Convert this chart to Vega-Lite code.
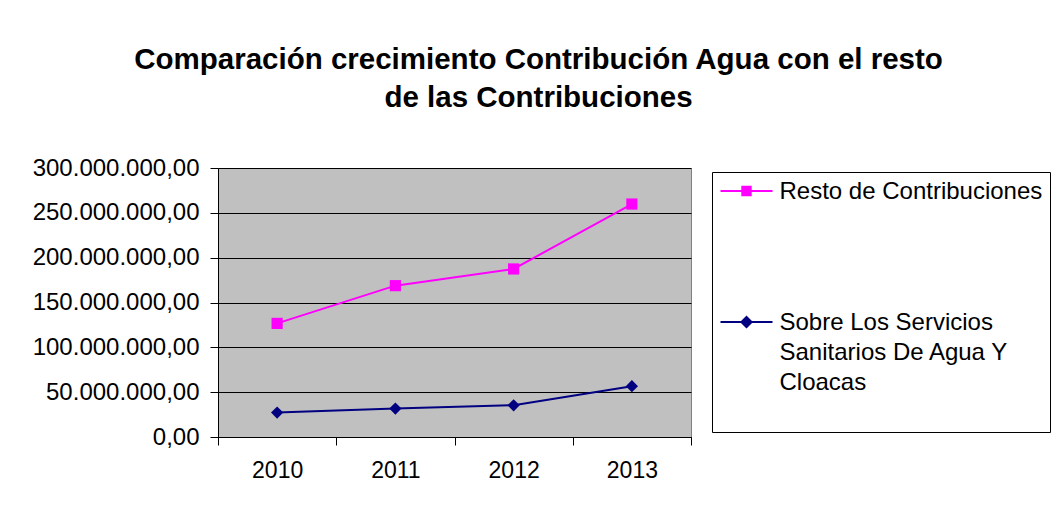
{
  "$schema": "https://vega.github.io/schema/vega-lite/v6.json",
  "width": 473,
  "height": 269,
  "autosize": "none",
  "padding": {"left": 218, "top": 168, "right": 369, "bottom": 71},
  "background": "white",
  "config": {
    "font": "Liberation Sans",
    "view": {"fill": "#C0C0C0", "stroke": "#808080", "strokeWidth": 1},
    "locale": {"number": {"decimal": ",", "thousands": ".", "grouping": [3], "currency": ["", " €"]}}
  },
  "title": {
    "text": ["Comparación crecimiento Contribución Agua con el resto", "de las Contribuciones"],
    "font": "Liberation Sans",
    "fontSize": 29.5,
    "fontWeight": "bold",
    "color": "black",
    "lineHeight": 37.5,
    "anchor": "middle",
    "dx": 84,
    "offset": 43
  },
  "data": {
    "values": [
      {"year": "2010", "series": "Resto de Contribuciones", "value": 126700000},
      {"year": "2011", "series": "Resto de Contribuciones", "value": 168800000},
      {"year": "2012", "series": "Resto de Contribuciones", "value": 187400000},
      {"year": "2013", "series": "Resto de Contribuciones", "value": 259800000},
      {"year": "2010", "series": "Sobre Los Servicios Sanitarios De Agua Y Cloacas", "value": 27300000},
      {"year": "2011", "series": "Sobre Los Servicios Sanitarios De Agua Y Cloacas", "value": 31700000},
      {"year": "2012", "series": "Sobre Los Servicios Sanitarios De Agua Y Cloacas", "value": 35400000},
      {"year": "2013", "series": "Sobre Los Servicios Sanitarios De Agua Y Cloacas", "value": 56700000}
    ]
  },
  "encoding": {
    "x": {
      "field": "year",
      "type": "ordinal",
      "scale": {"type": "band", "paddingInner": 0, "paddingOuter": 0},
      "axis": {
        "title": null,
        "labelAngle": 0,
        "labelFontSize": 23,
        "labelColor": "black",
        "labelPadding": 14,
        "tickBand": "extent",
        "tickSize": 8,
        "tickColor": "black",
        "domainColor": "black",
        "grid": false
      }
    },
    "y": {
      "field": "value",
      "type": "quantitative",
      "scale": {"domain": [0, 300000000], "nice": false},
      "axis": {
        "title": null,
        "values": [0, 50000000, 100000000, 150000000, 200000000, 250000000, 300000000],
        "format": ",.2f",
        "labelFontSize": 24,
        "labelColor": "black",
        "labelPadding": 11,
        "tickSize": 8,
        "tickColor": "black",
        "domainColor": "black",
        "gridColor": "black",
        "gridWidth": 1,
        "gridOpacity": 1
      }
    }
  },
  "layer": [
    {
      "mark": {"type": "line", "strokeWidth": 2},
      "encoding": {
        "color": {
          "field": "series",
          "type": "nominal",
          "scale": {"domain": ["Resto de Contribuciones", "Sobre Los Servicios Sanitarios De Agua Y Cloacas"], "range": ["#FF00FF", "#000080"]},
          "legend": {
            "title": null,
            "orient": "none",
            "legendX": 494,
            "legendY": 4,
            "strokeColor": "black",
            "fillColor": "white",
            "padding": 7,
            "symbolSize": 169,
            "symbolOffset": 15.5,
            "labelOffset": 21,
            "labelFontSize": 24,
            "labelColor": "black",
            "labelLimit": 400,
            "rowPadding": 106,
            "labelExpr": "datum.label == 'Resto de Contribuciones' ? 'Resto de Contribuciones ' : ['Sobre Los Servicios', 'Sanitarios De Agua Y', 'Cloacas', '']",
            "encode": {
              "symbols": {
                "update": {
                  "shape": {"signal": "datum.value == 'Resto de Contribuciones' ? 'M-4,-0.15L4,-0.15L4,0.15L-4,0.15ZM-0.8,-0.8L0.8,-0.8L0.8,0.8L-0.8,0.8Z' : 'M-4,-0.15L4,-0.15L4,0.15L-4,0.15ZM0,-1L1,0L0,1L-1,0Z'"},
                  "size": {"value": 169},
                  "fill": {"signal": "scale('color', datum.value)"},
                  "strokeWidth": {"value": 0},
                  "fillOpacity": {"value": 1},
                  "opacity": {"value": 1}
                }
              },
              "labels": {
                "update": {
                  "baseline": {"value": "alphabetic"},
                  "dy": {"value": 8},
                  "lineHeight": {"value": 30}
                }
              }
            }
          }
        }
      }
    },
    {
      "transform": [{"filter": "datum.series == 'Resto de Contribuciones'"}],
      "mark": {"type": "point", "shape": "square", "filled": true, "size": 125, "opacity": 1, "color": "#FF00FF"}
    },
    {
      "transform": [{"filter": "datum.series != 'Resto de Contribuciones'"}],
      "mark": {"type": "point", "shape": "diamond", "filled": true, "size": 150, "opacity": 1, "color": "#000080"}
    }
  ]
}
